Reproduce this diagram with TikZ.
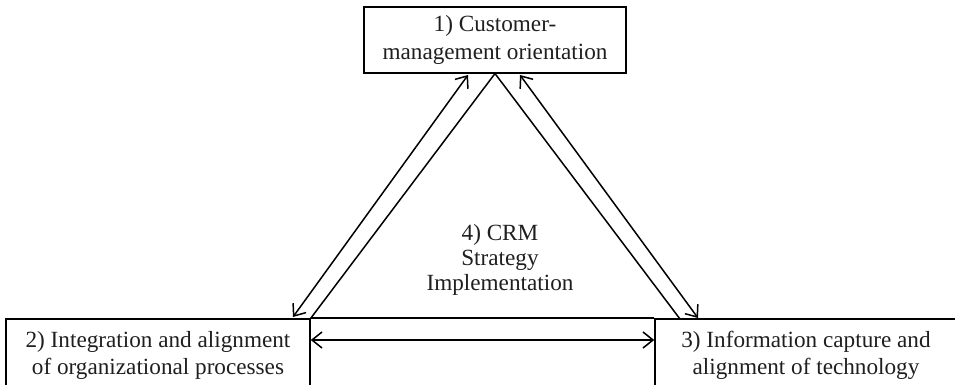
\documentclass[tikz,border=0pt]{standalone}
\usepackage{fontspec}
\setmainfont{Liberation Serif}
\usetikzlibrary{arrows.meta,calc}
\begin{document}
\begin{tikzpicture}[x=0.5pt,y=-0.5pt,
  box/.style={draw=black, line width=0.8pt, inner sep=0pt, align=center,
    font=\fontsize{11.6pt}{13.6pt}\selectfont, text=black!88},
  link/.style={draw=black, line width=0.75pt},
  twoway/.style={link, {Straight Barb[length=5pt,width=8pt]}-{Straight Barb[length=5pt,width=8pt]}}]
\clip (0,0) rectangle (955,385);

% the three corner boxes
\node[box, minimum width=131pt, minimum height=32.75pt] (b1) at (495,40)
  {1) Customer-\\management orientation};
\node[box, minimum width=152pt, minimum height=36.5pt] (b2) at (158,355.5)
  {2) Integration and alignment\\of organizational processes};
\node[box, minimum width=151pt, minimum height=36.5pt] (b3) at (806,355.5)
  {3) Information capture and\\alignment of technology};

% centre label
\node[align=center, font=\fontsize{11.6pt}{12.5pt}\selectfont, text=black!88] (c) at (500,260)
  {4) CRM\\Strategy\\Implementation};

% triangle
\coordinate (tr) at (680,319);
\draw[link] (b2.north east) -- (b1.south) -- (tr);
\draw[link] (b2.north east) -- (b3.north west);

% two-way arrows
\coordinate (a1) at (468,75);
\coordinate (a2) at (293,317);
\coordinate (a3) at (520,75);
\coordinate (a4) at (698,318);
\draw[twoway] (a1) -- (a2);
\draw[twoway] (a3) -- (a4);
\draw[twoway] (b2.east |- 0,340) -- (b3.west |- 0,340);
\end{tikzpicture}
\end{document}
